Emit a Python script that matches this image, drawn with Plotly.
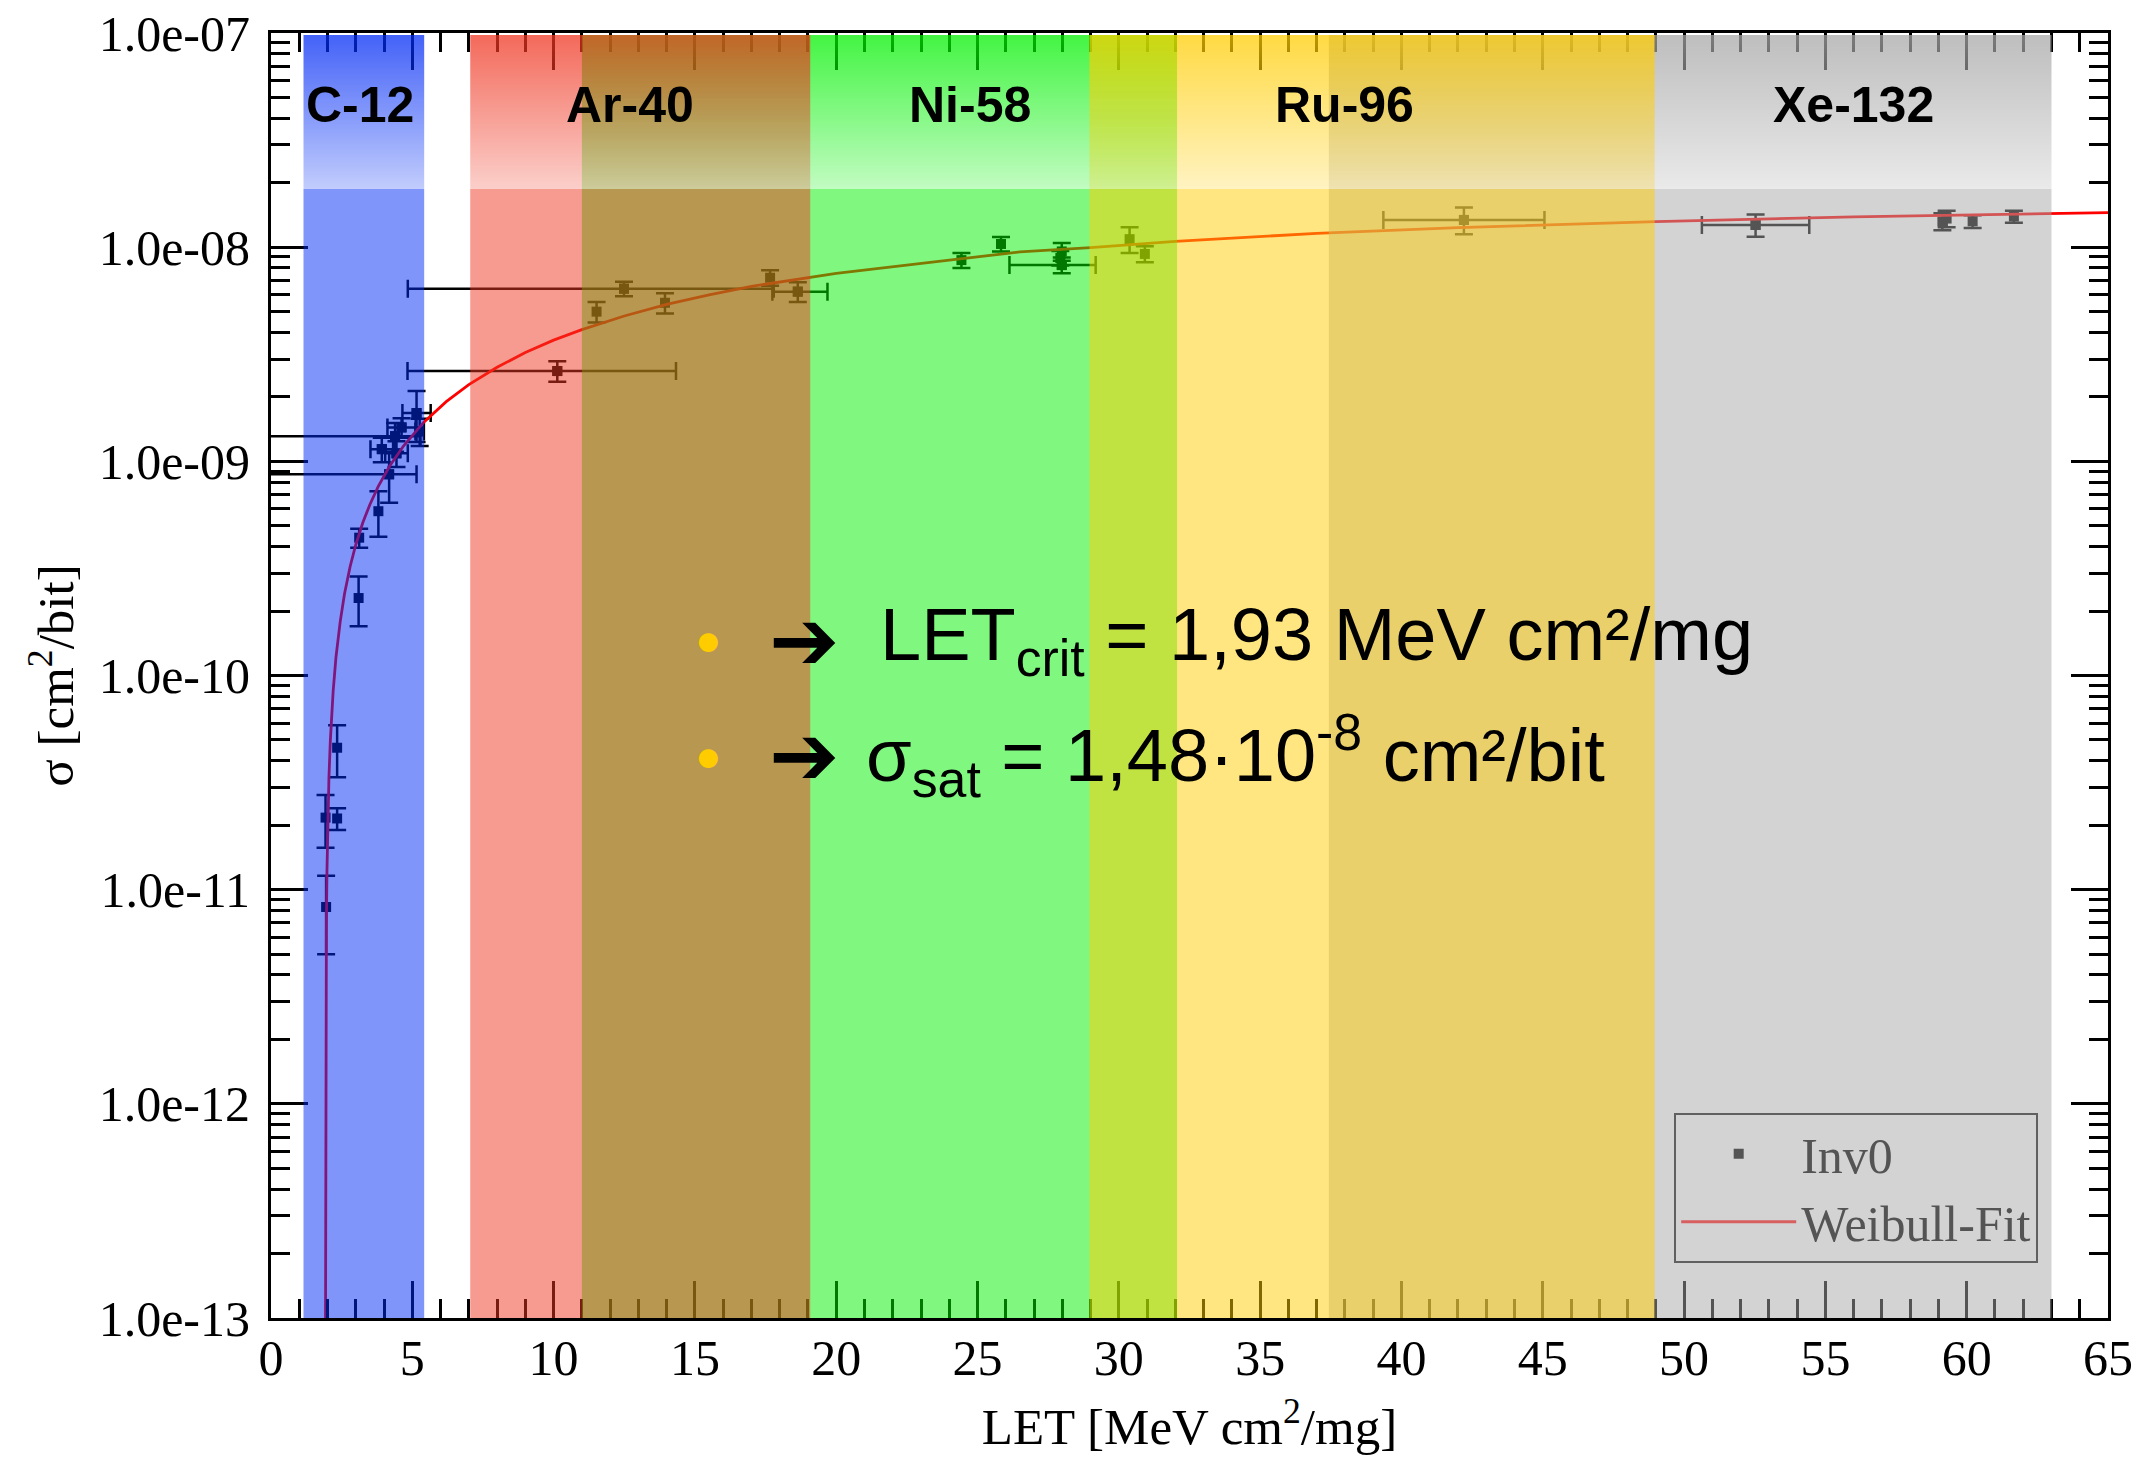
import plotly.graph_objects as go

# ---------------- data ----------------
let_vals = [1.95, 1.93, 2.34, 2.34, 3.10, 3.12, 3.80, 4.18, 3.92, 4.44, 4.39, 4.62, 5.15, 5.26,
            10.13, 11.52, 12.49, 13.94, 17.66, 18.64,
            24.43, 25.83, 27.98, 27.93, 27.98, 30.38, 30.92,
            42.21, 52.53, 59.14, 59.29, 60.21, 61.67]
sigma_vals = [8.3e-12, 2.17e-11, 2.15e-11, 4.6e-11, 2.3e-10, 4.4e-10, 5.85e-10, 8.7e-10,
              1.14e-9, 1.09e-9, 1.31e-9, 1.44e-9, 1.68e-9, 1.38e-9,
              2.64e-9, 5.0e-9, 6.4e-9, 5.5e-9, 7.2e-9, 6.2e-9,
              8.7e-9, 1.035e-8, 9.55e-9, 8.9e-9, 8.25e-9, 1.09e-8, 9.3e-9,
              1.34e-8, 1.27e-8, 1.32e-8, 1.36e-8, 1.32e-8, 1.39e-8]
sigma_err = [3.3e-12, 6e-12, 2.5e-12, 1.25e-11, 6e-11, 4.5e-11, 1.4e-10, 2.3e-10,
             1.5e-10, 1.5e-10, 2e-10, 1.5e-10, 4.5e-10, 2e-10,
             2.9e-10, 5.5e-10, 5e-10, 6e-10, 6e-10, 6.5e-10,
             7e-10, 8e-10, 9e-10, 7e-10, 7e-10, 1.5e-9, 8e-10,
             1.9e-9, 1.5e-9, 1.2e-9, 1.2e-9, 9e-10, 9e-10]
let_err_plus = [0, 0, 0, 0, 0, 0, 0, 0.97, 0.4, 0.4, 0.9, 0.5, 0.5, 0.15,
                4.2, 0, 5.3, 0, 0, 1.05,
                0, 0, 0, 0, 1.2, 0, 0,
                2.85, 1.9, 0, 0, 0, 0]
let_err_minus = [0, 0, 0, 0, 0, 0, 0, 4.5, 0.4, 0.4, 4.6, 0.5, 0.5, 0.15,
                 5.3, 0, 7.65, 0, 0, 0.9,
                 0, 0, 0, 0, 1.85, 0, 0,
                 2.85, 1.9, 0, 0, 0, 0]

# Weibull-fit curve
fit_let = [1.93, 1.94, 1.95, 1.96, 1.98, 2.0, 2.05, 2.1, 2.2, 2.3, 2.45, 2.6, 2.8, 3.0, 3.25,
           3.5, 3.8, 4.2, 4.7, 5.4, 6.2, 7.0, 8.0, 9.0, 10.0, 11.0, 12.5, 14.0, 15.5, 17.0,
           20.0, 24.0, 26.5, 29.0, 32.0, 37.0, 42.0, 49.0, 56.0, 65.0]
fit_sigma = [1.0e-13, 1.93e-12, 4.26e-12, 6.8e-12, 1.22e-11, 1.80e-11, 3.34e-11, 4.98e-11,
             8.47e-11, 1.22e-10, 1.79e-10, 2.40e-10, 3.23e-10, 4.08e-10, 5.18e-10,
             6.29e-10, 7.66e-10, 9.51e-10, 1.185e-9, 1.52e-9, 1.90e-9, 2.28e-9, 2.75e-9,
             3.22e-9, 3.68e-9, 4.12e-9, 4.77e-9, 5.40e-9, 5.99e-9, 6.56e-9,
             7.55e-9, 8.7e-9, 9.5e-9, 9.95e-9, 1.065e-8, 1.16e-8, 1.235e-8, 1.315e-8,
             1.385e-8, 1.45e-8]

# ion bands (LET ranges) and labels
band_names = ["C-12", "Ni-58", "Ar-40", "Xe-132", "Ru-96"]
band_x0 = [1.15, 11.0, 7.05, 37.43, 28.96]
band_x1 = [5.42, 32.06, 19.08, 63.0, 48.96]
band_rgb = [(1, 43, 245), (1, 241, 1), (239, 53, 33), (167, 167, 167), (255, 205, 1)]
label_names = ["C-12", "Ar-40", "Ni-58", "Ru-96", "Xe-132"]
label_let = [3.15, 12.7, 24.75, 38.0, 56.0]

x_tick_vals = [0, 5, 10, 15, 20, 25, 30, 35, 40, 45, 50, 55, 60, 65]
y_tick_vals = [1e-13, 1e-12, 1e-11, 1e-10, 1e-9, 1e-8, 1e-7]
y_tick_text = ["1.0e-13", "1.0e-12", "1.0e-11", "1.0e-10", "1.0e-09", "1.0e-08", "1.0e-07"]

# ---------------- figure ----------------
W, H = 2146, 1457
ML, MR, MT, MB = 271, 38, 33, 139
PH = H - MT - MB

fig = go.Figure()

serif = "Liberation Serif, Times New Roman, serif"
sans = "Liberation Sans, Arial, sans-serif"

# data with vertical error bars
fig.add_trace(go.Scatter(
    x=let_vals, y=sigma_vals, mode="markers", showlegend=False,
    marker=dict(symbol="square", size=10, color="black"),
    error_y=dict(type="data", array=sigma_err, visible=True, color="black", thickness=2.5, width=9),
))
# horizontal error bars (only points that have them)
idx = [i for i in range(len(let_vals)) if let_err_plus[i] > 0 or let_err_minus[i] > 0]
fig.add_trace(go.Scatter(
    x=[let_vals[i] for i in idx], y=[sigma_vals[i] for i in idx], mode="markers", showlegend=False,
    marker=dict(symbol="square", size=10, color="black"),
    error_x=dict(type="data", symmetric=False, array=[let_err_plus[i] for i in idx],
                 arrayminus=[let_err_minus[i] for i in idx], visible=True,
                 color="black", thickness=2.5, width=9),
))
# fit
fig.add_trace(go.Scatter(x=fit_let, y=fit_sigma, mode="lines", showlegend=False,
                         line=dict(color="rgb(255,0,0)", width=2.8)))
# legend entries (coloured as seen through the grey band)
fig.add_trace(go.Scatter(x=[None], y=[None], mode="markers", name="Inv0",
                         marker=dict(symbol="square", size=10, color="#545454")))
fig.add_trace(go.Scatter(x=[None], y=[None], mode="lines", name="Weibull-Fit",
                         line=dict(color="rgb(215,95,95)", width=3)))

# translucent band overlays (drawn above everything in the plot area)
shapes = []
g_base = PH - (189 - MT)     # gradient starts 189 px from top of page (px above plot bottom)
top_px = PH - 2
n_strips = top_px - g_base   # one strip per pixel row
for (x0, x1, rgb) in zip(band_x0, band_x1, band_rgb):
    r, g, b = rgb
    shapes.append(dict(type="rect", xref="x", yref="paper", x0=x0, x1=x1, y0=0, y1=g_base / PH,
                       fillcolor=f"rgba({r},{g},{b},0.5)", line=dict(width=0), layer="above"))
    for k in range(n_strips):
        ya = (g_base + k) / PH
        yb = (g_base + k + 1) / PH
        a = 0.24 + (0.74 - 0.24) * (k + 0.5) / n_strips
        shapes.append(dict(type="rect", xref="x", yref="paper", x0=x0, x1=x1, y0=ya, y1=yb,
                           fillcolor=f"rgba({r},{g},{b},{a:.3f})", line=dict(width=0), layer="above"))

annotations = []
for name, lx in zip(label_names, label_let):
    annotations.append(dict(x=lx, y=0.944, xref="x", yref="paper", text=f"<b>{name}</b>",
                            showarrow=False, xanchor="center", yanchor="middle",
                            font=dict(family="Liberation Sans, Arial, sans-serif", size=50, color="black")))

rows = [(0.528, "LET<sub>crit</sub> = 1,93 MeV cm²/mg", 0.3305),
        (0.438, "σ<sub>sat</sub> = 1,48·10<sup>-8</sup> cm²/bit", 0.3230)]
for (yy, txt, xs) in rows:
    annotations.append(dict(x=0.2379, y=yy, xref="paper", yref="paper", text="●", showarrow=False,
                            xanchor="center", yanchor="middle",
                            font=dict(family=sans, size=44, color="#FFCC00")))
    annotations.append(dict(x=0.2902, y=yy, xref="paper", yref="paper", text="<b>➔</b>", showarrow=False,
                            xanchor="center", yanchor="middle",
                            font=dict(family="DejaVu Sans", size=84, color="black")))
    annotations.append(dict(x=xs, y=yy, xref="paper", yref="paper", text=txt, showarrow=False,
                            xanchor="left", yanchor="middle",
                            font=dict(family=sans, size=74, color="black")))

minor_y = [m * 10.0 ** e for e in range(-13, -7) for m in range(2, 10)]

axis_common = dict(ticks="inside", ticklen=37, tickwidth=3, tickcolor="black",
                   showline=True, linecolor="black", linewidth=3, mirror="allticks",
                   showgrid=False, zeroline=False, automargin=False,
                   tickfont=dict(family=serif, size=50, color="black"))

fig.update_layout(
    width=W, height=H, autosize=False,
    margin=dict(l=ML, r=MR, t=MT, b=MB),
    plot_bgcolor="white", paper_bgcolor="white",
    shapes=shapes, annotations=annotations,
    legend=dict(x=0.962, xanchor="right", y=0.043, yanchor="bottom",
                bgcolor="rgba(0,0,0,0)", bordercolor="#606060", borderwidth=2,
                font=dict(family=serif, size=50, color="#545454"), itemwidth=115),
    xaxis=dict(range=[0, 65], tickmode="array", tickvals=x_tick_vals,
               minor=dict(dtick=1, tick0=0, ticks="inside", ticklen=19, tickwidth=2.5, tickcolor="black"),
               title=dict(text="LET [MeV cm<sup>2</sup>/mg]", font=dict(family=serif, size=51, color="black"),
                          standoff=24),
               ticklabelstandoff=-6, **axis_common),
    yaxis=dict(type="log", range=[-13, -7], tickmode="array", tickvals=y_tick_vals, ticktext=y_tick_text,
               minor=dict(tickmode="array", tickvals=minor_y, ticks="inside", ticklen=19, tickwidth=2.5,
                          tickcolor="black"),
               title=dict(text="σ [cm<sup>2</sup>/bit]", font=dict(family=serif, size=51, color="black"),
                          standoff=9),
               ticklabelstandoff=8, **axis_common),
)

fig.write_html("out.html")
